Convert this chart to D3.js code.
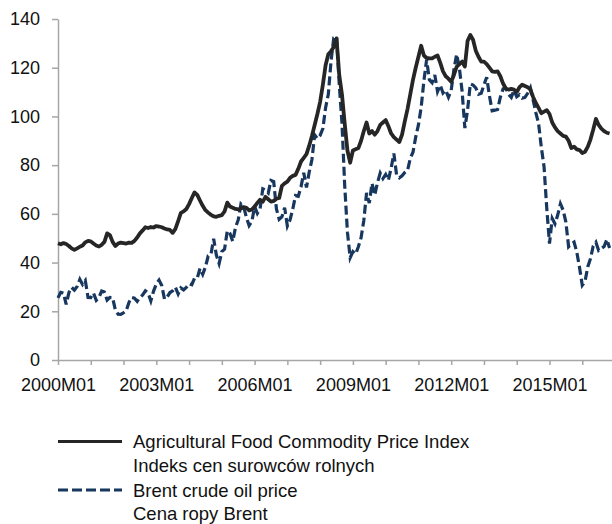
<!DOCTYPE html>
<html lang="en">
  <head>
    <meta charset="utf-8">
    <title>Food commodities vs Brent</title>
    <script src="https://d3js.org/d3.v7.min.js"></script>
    <style>
      body { margin: 0; background: #fff; }
      svg { display: block; font-family: "Liberation Sans", Arial, sans-serif; }
    </style>
  </head>
  <body>
    <script>
      // monthly values, 2000M01 .. 2016M11
      var foodIndex = [
        47.9, 47.5, 48.0, 47.6, 46.8, 45.8, 45.2, 45.8, 46.5, 47.0, 48.3, 48.9,
        48.7, 47.8, 47.0, 46.6, 47.3, 48.5, 52.0, 51.3, 48.5, 46.8, 47.8, 48.2,
        48.0, 47.8, 48.2, 48.1, 48.9, 50.3, 52.0, 53.2, 54.5, 54.2, 54.6, 54.4,
        55.0, 54.8, 54.5, 54.0, 53.6, 53.4, 52.2, 53.8, 57.0, 60.4, 61.0, 62.0,
        64.0, 66.5, 68.8, 67.8, 65.5, 63.3, 61.5, 60.5, 59.6, 59.0, 58.8, 59.2,
        59.5, 61.0, 64.6, 63.0, 62.5, 62.0, 61.8, 62.2, 62.8, 62.5, 61.4, 61.8,
        63.0, 64.5, 65.8, 65.0, 67.0, 66.0, 65.0, 65.3, 66.2, 66.5, 71.5, 72.5,
        73.2, 74.8, 75.6, 76.0, 78.5, 81.5, 83.0, 84.5, 88.0, 92.0, 96.5, 101.0,
        106.0, 113.0, 121.0, 125.5, 126.8, 128.5, 132.0, 117.0, 109.0, 97.0, 86.0, 81.0,
        86.0, 86.5, 87.0, 90.0, 94.0, 97.5, 93.0, 94.0, 92.5, 94.0, 96.5, 97.5,
        98.5, 96.0, 93.0, 91.5, 90.5, 89.5, 92.5, 98.0, 103.0, 109.0, 115.0, 120.0,
        124.5, 129.0, 125.0, 124.0, 123.8, 123.8, 124.5, 125.0, 122.0, 118.5, 116.5, 115.5,
        114.2, 117.0, 120.4, 121.5, 122.5, 120.5, 131.0, 133.4, 131.5, 127.0, 124.5, 122.5,
        122.5, 121.5, 120.0, 118.5, 118.3, 118.5, 116.5, 113.5, 111.5, 111.0, 111.3, 111.0,
        110.0, 112.0, 113.0, 112.5, 112.0, 111.0, 108.0, 105.5, 103.5, 101.3, 102.0, 102.6,
        101.0, 97.5, 95.5, 94.0, 93.0, 92.0, 91.7, 90.0, 87.0, 87.6, 86.5, 86.2,
        85.0, 85.5, 87.5, 90.5, 94.5, 99.0, 96.5, 95.0, 94.0, 93.3, 93.0
      ];

      var brent = [
        25.5, 27.8, 27.5, 22.8, 27.7, 29.8, 28.7, 30.2, 33.1, 31.0, 32.6, 25.7,
        25.6, 27.5, 24.5, 25.7, 28.3, 27.9, 24.6, 25.7, 25.6, 20.5, 18.8, 18.7,
        19.4, 20.3, 23.7, 25.7, 25.4, 24.1, 25.7, 26.7, 28.4, 27.5, 24.3, 28.3,
        31.2, 32.8, 30.6, 25.0, 25.9, 27.7, 28.4, 29.9, 27.1, 29.6, 28.8, 29.8,
        31.3, 30.9, 33.6, 33.6, 37.6, 35.2, 38.2, 42.7, 43.2, 49.8, 43.1, 39.6,
        44.5, 45.5, 53.1, 51.9, 48.7, 54.4, 57.5, 64.0, 62.9, 58.5, 55.2, 56.9,
        63.0, 60.2, 62.1, 70.3, 69.8, 68.6, 73.7, 73.2, 62.0, 57.8, 58.8, 62.5,
        55.0, 57.6, 62.1, 67.5, 67.2, 71.1, 76.9, 70.8, 77.2, 82.3, 92.4, 90.9,
        92.2, 95.0, 103.6, 109.1, 122.8, 132.3, 133.0, 113.2, 97.2, 71.6, 52.5, 42.0,
        44.5, 43.5, 46.5, 50.2, 57.3, 68.6, 64.4, 72.5, 67.7, 72.8, 76.7, 74.5,
        76.2, 73.8, 78.8, 84.8, 76.0, 74.8, 75.6, 77.0, 77.8, 82.7, 85.3, 91.5,
        96.5, 103.7, 114.6, 123.3, 115.0, 113.8, 117.0, 110.2, 112.8, 109.6, 110.8, 107.9,
        110.7, 119.3, 125.5, 119.8, 110.3, 95.2, 102.6, 113.4, 112.9, 111.7, 109.1, 109.5,
        113.0, 116.1, 108.5, 102.3, 102.6, 102.9, 107.9, 111.3, 111.6, 109.1, 107.8, 110.8,
        108.1, 108.9, 107.5, 107.8, 109.5, 111.8, 106.8, 101.6, 97.1, 87.4, 79.4, 62.3,
        47.8, 58.1, 55.9, 59.5, 64.1, 61.5, 56.6, 46.5, 47.6, 48.4, 44.3, 38.0,
        30.7, 32.2, 38.2, 41.6, 46.7, 48.3, 45.0, 45.8, 46.6, 49.5, 46.0
      ];

      var firstYear = 2000;
      var months = d3.range(204).map(function(i) {
        return (firstYear + Math.floor(i / 12)) + "M" + d3.format("02")(i % 12 + 1);
      });
      var labelMonths = ["2000M01", "2003M01", "2006M01", "2009M01", "2012M01", "2015M01"];
      var yTicks = [0, 20, 40, 60, 80, 100, 120, 140];
      var seriesNames = [
        ["Agricultural Food Commodity Price Index", "Indeks cen surowców rolnych"],
        ["Brent crude oil price", "Cena ropy Brent"]
      ];

      var width = 612, height = 524;
      var axisColor = "#a6a6a6";

      var svg = d3.select("body").append("svg")
        .attr("width", width)
        .attr("height", height);

      var x = d3.scaleLinear()
        .domain([0, months.length - 1])
        .range([58, 612.3]);

      var y = d3.scaleLinear()
        .domain([0, 140])
        .range([360, 19]);

      // y axis
      var yAxis = svg.append("g")
        .attr("transform", "translate(58,0)")
        .call(d3.axisLeft(y).tickValues(yTicks).tickSize(6).tickSizeOuter(0).tickPadding(12));
      yAxis.selectAll("line, path").attr("stroke", axisColor).attr("stroke-width", 1.5);
      yAxis.selectAll("text").attr("font-size", 18).attr("fill", "#111")
        .attr("font-family", "Liberation Sans, Arial, sans-serif");

      // x axis: tick every year, label every third year
      var xAxis = svg.append("g")
        .attr("transform", "translate(0,360)")
        .call(d3.axisBottom(x)
          .tickValues(d3.range(0, months.length, 12))
          .tickSize(5)
          .tickSizeOuter(0)
          .tickPadding(13)
          .tickFormat(function(i) { return labelMonths.indexOf(months[i]) >= 0 ? months[i] : ""; }));
      xAxis.selectAll("line, path").attr("stroke", axisColor).attr("stroke-width", 1.5);
      xAxis.selectAll("text").attr("font-size", 18).attr("fill", "#111")
        .attr("font-family", "Liberation Sans, Arial, sans-serif");

      var line = d3.line()
        .x(function(d, i) { return x(i); })
        .y(function(d) { return y(d); });

      svg.append("path")
        .datum(brent)
        .attr("fill", "none")
        .attr("stroke", "#17375e")
        .attr("stroke-width", 3.2)
        .attr("stroke-dasharray", "9,4")
        .attr("d", line);

      svg.append("path")
        .datum(foodIndex)
        .attr("fill", "none")
        .attr("stroke", "#262626")
        .attr("stroke-width", 3.8)
        .attr("stroke-linejoin", "round")
        .attr("d", line);

      // legend
      var legend = svg.append("g");
      var styles = [
        {stroke: "#262626", dash: null},
        {stroke: "#17375e", dash: "10,4"}
      ];
      seriesNames.forEach(function(names, k) {
        var top = 441.5 + k * 48.5;
        legend.append("line")
          .attr("x1", 58).attr("x2", 122)
          .attr("y1", top).attr("y2", top)
          .attr("stroke", styles[k].stroke)
          .attr("stroke-width", 3.2)
          .attr("stroke-dasharray", styles[k].dash);
        names.forEach(function(t, j) {
          legend.append("text")
            .attr("x", 133)
            .attr("y", top + 6.8 + j * 23.5)
            .attr("font-size", 18.5)
            .attr("fill", "#111")
            .text(t);
        });
      });
    </script>
  </body>
</html>
